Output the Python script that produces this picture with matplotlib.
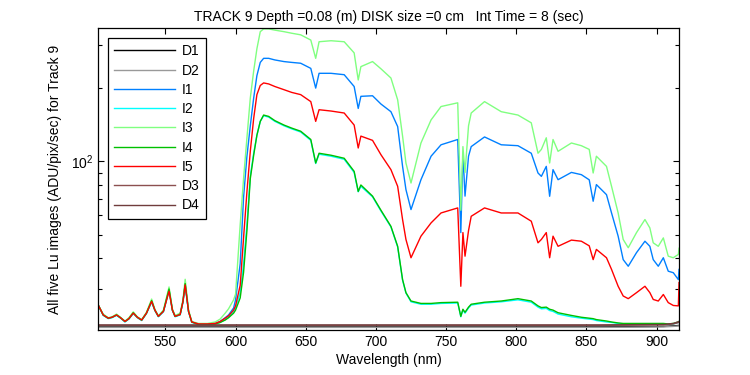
import matplotlib
matplotlib.use("Agg")
import matplotlib.pyplot as plt
from matplotlib.ticker import FixedLocator, NullFormatter, LogFormatterSciNotation

plt.rcParams["font.family"] = ["Liberation Sans", "DejaVu Sans"]
plt.rcParams["mathtext.default"] = "regular"

# ---------- data ----------
wl = [502, 505.7, 509.3, 512, 515.2, 518, 521.2, 524, 527.1, 530,
      533.1, 536.5, 540.2, 542.5, 545, 548.6, 552.6, 555, 556.9, 560.5,
      562.5, 564.1, 566.5, 568.8, 573.6, 580, 585.5, 589, 592.6, 595,
      598.6, 600, 603.3, 605.7, 608.1, 610.5, 612.9, 615.2, 617.6, 620,
      623.6, 628, 634.5, 640, 646.4, 653.6, 657.1, 659.5, 668, 677.4,
      684.5, 687.4, 689.3, 697.6, 703.6, 710.7, 715.5, 719, 721.4, 725,
      732.1, 739.3, 746.4, 758.3, 760.5, 762, 763.5, 766, 767.9, 777.4,
      789.3, 801.2, 810.7, 815.5, 817.9, 821.4, 823.8, 826.2, 829.8, 839.3,
      846.4, 852, 854.8, 857.1, 864.3, 867.9, 872.6, 876.2, 879.8, 885.7,
      891.7, 895.2, 897.6, 901.2, 904.8, 908.3, 911.9, 915.5, 916]

I1 = [25.8, 23.4, 22.7, 22.9, 23.4, 22.8, 22.0, 22.6, 23.8, 22.9,
      22.3, 23.8, 26.6, 24.5, 23.1, 24.2, 29.7, 24.5, 23.1, 23.5,
      26.5, 31.3, 24.2, 21.9, 21.5, 21.5, 21.6, 22.0, 22.8, 23.4,
      25.0, 27.0, 38, 71, 105, 140, 182, 225, 255, 265,
      265, 261, 257, 255, 253, 241, 200, 230, 230, 227,
      203, 165, 185, 186, 172, 160, 139, 95.4, 76.6, 63.4,
      84.1, 105, 117, 123, 51, 108, 72, 105, 115, 126,
      117, 116, 108, 89.6, 86.8, 95.4, 71.9, 92.5, 84.1, 90.1,
      88.2, 84, 68.6, 80.3, 73.0, 61.4, 49.3, 39.5, 37.1, 42.2,
      47.0, 44.8, 39.5, 37.1, 40.2, 35.4, 34.9, 32.7, 36]

I2 = [25.7, 23.3, 22.6, 22.8, 23.3, 22.7, 21.9, 22.5, 23.7, 22.8,
      22.2, 23.7, 26.4, 24.4, 23.0, 24.1, 29.5, 24.4, 23.0, 23.4,
      26.3, 31.0, 24.1, 21.8, 21.4, 21.4, 21.5, 21.8, 22.4, 22.9,
      24.2, 25.0, 29, 38, 55, 87, 108, 128, 146, 154,
      152, 146, 140, 136, 132, 122, 98, 107, 105, 102,
      90, 75, 79, 71.5, 62.5, 53.8, 44.5, 32.5, 28.8, 26.5,
      25.9, 25.9, 26.1, 26.2, 23.0, 24.5, 23.8, 25.0, 25.7, 26.2,
      26.5, 27.0, 26.4, 25.2, 24.8, 24.9, 24.4, 24.2, 23.6, 23.0,
      22.7, 22.5, 22.4, 22.2, 21.9, 21.8, 21.6, 21.5, 21.5, 21.5,
      21.5, 21.5, 21.5, 21.5, 21.5, 21.4, 21.5, 21.8, 22.0]

I3 = [25.8, 23.6, 22.8, 23.0, 23.6, 22.9, 22.1, 22.8, 24.1, 23.0,
      22.4, 24.0, 27.2, 24.7, 23.2, 24.5, 30.5, 24.8, 23.3, 23.8,
      27.0, 32.8, 24.6, 22.0, 21.6, 21.6, 21.9, 22.5, 23.8, 24.8,
      27.0, 28.5, 55, 85, 125, 182, 235, 290, 341, 350,
      350, 346, 341, 336, 331, 315, 265, 310, 313, 310,
      279, 216, 245, 257, 240, 220, 179, 127, 98.5, 81.5,
      119, 148, 168, 174, 63, 115, 90, 140, 158, 176,
      160, 155, 144, 108, 112, 125, 98.5, 123, 110, 119,
      116, 112, 89.6, 105, 95.4, 79.0, 61.4, 47.8, 44.2, 51.0,
      57.7, 53.3, 46.3, 44.8, 48.5, 40.8, 40.2, 41.5, 44]

I4 = [25.8, 23.4, 22.7, 22.9, 23.4, 22.8, 22.0, 22.6, 23.9, 22.9,
      22.3, 23.8, 26.8, 24.5, 23.1, 24.3, 29.9, 24.5, 23.1, 23.5,
      26.6, 31.5, 24.2, 21.9, 21.4, 21.4, 21.5, 21.8, 22.3, 22.8,
      23.8, 24.5, 27.5, 35, 52, 85, 106, 128, 146, 155,
      153, 147, 141, 137, 133, 123, 98.5, 108, 106, 103,
      91, 75.3, 80, 72, 63, 54.1, 44.8, 32.7, 28.9, 26.7,
      26.1, 26.1, 26.3, 26.4, 23.1, 24.7, 24.0, 25.2, 25.9, 26.4,
      26.7, 27.3, 26.7, 25.5, 25.1, 25.2, 24.7, 24.5, 23.9, 23.3,
      22.9, 22.7, 22.6, 22.4, 22.1, 21.9, 21.7, 21.6, 21.6, 21.6,
      21.6, 21.6, 21.6, 21.6, 21.6, 21.5, 21.6, 21.9, 22.0]

I5 = [25.8, 23.4, 22.7, 22.9, 23.4, 22.8, 22.0, 22.6, 23.8, 22.9,
      22.3, 23.8, 26.6, 24.5, 23.1, 24.2, 29.3, 24.5, 23.1, 23.5,
      26.5, 31.1, 24.2, 21.9, 21.5, 21.5, 21.6, 22.0, 22.7, 23.2,
      24.5, 25.5, 31, 48.5, 75, 110, 150, 188, 205, 210,
      208, 203, 197, 192, 188, 176, 146, 163, 161, 158,
      141, 113.5, 127, 122, 106.5, 92.5, 79.0, 57.7, 47.8, 40.2,
      49.3, 55.9, 61.4, 64.4, 30.7, 51, 40.8, 52, 59.5, 64.4,
      61.4, 61.4, 56.8, 46.3, 47.8, 51.0, 40.2, 49.3, 44.8, 47.5,
      47.0, 45, 39.5, 43.5, 40.2, 36.0, 30.7, 28.0, 27.3, 28.9,
      30.7, 28.9, 27.1, 26.7, 28.4, 26.3, 25.6, 25.5, 31.8]

dark_wl = [502, 560, 620, 700, 780, 860, 905, 912, 916]
D1 = [20.9, 20.9, 20.9, 20.9, 20.9, 20.9, 21.0, 21.1, 21.2]
D2 = [20.8, 20.8, 20.8, 20.8, 20.8, 20.8, 20.9, 21.0, 21.1]
D3 = [21.2, 21.2, 21.2, 21.2, 21.2, 21.2, 21.3, 21.5, 21.8]
D4 = [21.3, 21.3, 21.3, 21.3, 21.3, 21.3, 21.4, 21.6, 22.0]

xticks = [550, 600, 650, 700, 750, 800, 850, 900]

# ---------- figure ----------
fig = plt.figure(figsize=(7.5, 3.75), dpi=100)
ax = fig.add_axes([0.1307, 0.12, 0.7747, 0.8053])

series = [(dark_wl, D1, "#000000", "D1"),
          (dark_wl, D2, "#999999", "D2"),
          (wl, I1, "#0080ff", "I1"),
          (wl, I2, "#00ffff", "I2"),
          (wl, I3, "#80ff80", "I3"),
          (wl, I4, "#00c000", "I4"),
          (wl, I5, "#ff0000", "I5"),
          (dark_wl, D3, "#8c5050", "D3"),
          (dark_wl, D4, "#703c3c", "D4")]
for x, y, c, lab in series:
    ax.plot(x, y, color=c, linewidth=1.0, label=lab)

ax.set_yscale("log")
ax.set_xlim(502, 916)
ax.set_ylim(20.3, 353)
ax.set_xticks(xticks)
ax.yaxis.set_major_locator(FixedLocator([100]))
ax.yaxis.set_major_formatter(LogFormatterSciNotation())
ax.yaxis.set_minor_locator(FixedLocator([20, 30, 40, 50, 60, 70, 80, 90, 200, 300]))
ax.yaxis.set_minor_formatter(NullFormatter())
ax.tick_params(which="both", direction="in", top=True, right=True, labelsize=10, width=0.8)
ax.tick_params(which="major", length=4)
ax.tick_params(which="minor", length=3)
for s in ax.spines.values():
    s.set_linewidth(0.9)

ax.set_xlabel("Wavelength (nm)", fontsize=10, labelpad=3)
ax.set_ylabel("All five Lu images (ADU/pix/sec) for Track 9", fontsize=10, labelpad=6)
ax.set_title("TRACK 9 Depth =0.08 (m) DISK size =0 cm   Int Time = 8 (sec)", fontsize=10, pad=5)

leg = ax.legend(loc="upper left", bbox_to_anchor=(0.017, 0.967), borderaxespad=0,
                fontsize=10, handlelength=4.4, handletextpad=0.45, labelspacing=0.38,
                borderpad=0.45, fancybox=False, framealpha=1, edgecolor="black")
leg.get_frame().set_linewidth(0.9)

fig.savefig("out.png", dpi=100)
